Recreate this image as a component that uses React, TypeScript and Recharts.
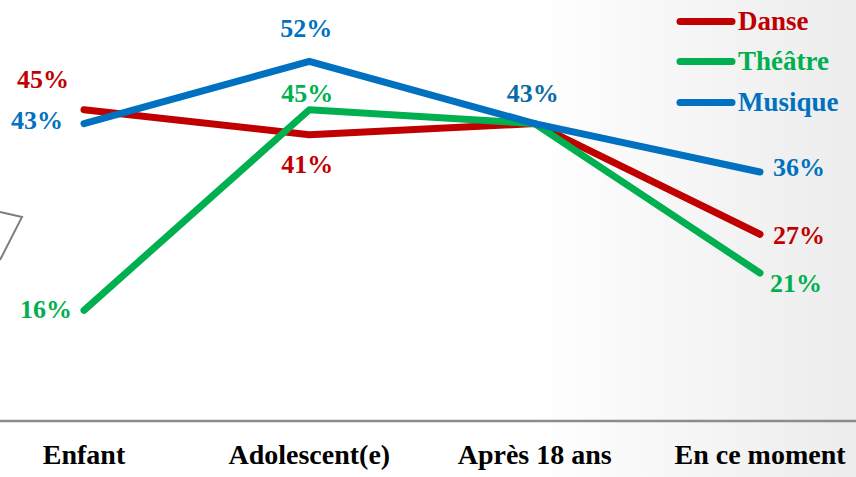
import React from "react";
import { LineChart, Line, XAxis, YAxis, LabelList } from "recharts";

const categories = ["Enfant", "Adolescent(e)", "Après 18 ans", "En ce moment"];
const danse = [45, 41.4, 43, 27];
const theatre = [16, 45, 43, 21.4];
const musique = [43, 52, 43, 36];

const FONT = '"Liberation Serif", "Times New Roman", serif';

const series = [
  { key: "danse", name: "Danse", color: "#C00000" },
  { key: "theatre", name: "Théâtre", color: "#00B050" },
  { key: "musique", name: "Musique", color: "#0070C0" },
];

// label offsets (dx, dy) from each point to the label centre; null = label shared with another series
const labelOffsets: Record<string, ([number, number] | null)[]> = {
  danse: [[-41, -31], [-2, 29], null, [39, 1]],
  theatre: [[-38, -1], [-2, -17], null, [36, 10]],
  musique: [[-47, -4], [-3, -33], [-2, -31], [39, -5]],
};

const data = categories.map((c, i) => ({
  name: c,
  danse: danse[i],
  theatre: theatre[i],
  musique: musique[i],
}));

function makeLabel(key: string, color: string) {
  return (props: any) => {
    const { x, y, value, index } = props;
    const off = labelOffsets[key][index];
    if (!off) return null;
    const [dx, dy] = off;
    // the shared label where the three lines meet is drawn on top of each other in the original
    const fill = key === "musique" && index === 2 ? "#0B6AA6" : color;
    return (
      <text
        x={x + dx}
        y={y + dy + 9}
        textAnchor="middle"
        fill={fill}
        fontFamily={FONT}
        fontWeight="bold"
        fontSize={26}
      >
        {Math.round(value)}%
      </text>
    );
  };
}

function CategoryTick(props: any) {
  const { x, y, payload } = props;
  return (
    <text
      x={x}
      y={y + 35}
      textAnchor="middle"
      fill="#000"
      fontFamily={FONT}
      fontWeight="bold"
      fontSize={28}
    >
      {payload.value}
    </text>
  );
}

function ChartLegend() {
  return (
    <div
      style={{
        position: "absolute",
        left: 676,
        top: 1,
        fontFamily: FONT,
        fontWeight: "bold",
        fontSize: 27,
      }}
    >
      {series.map((s) => (
        <div
          key={s.key}
          style={{ display: "flex", alignItems: "center", height: 40.5, color: s.color }}
        >
          <svg width={60} height={9} style={{ marginRight: 2 }}>
            <line x1={4} y1={4.5} x2={56} y2={4.5} stroke={s.color} strokeWidth={7} strokeLinecap="round" />
          </svg>
          <span>{s.name}</span>
        </div>
      ))}
    </div>
  );
}

export default function App() {
  return (
    <div
      style={{
        position: "absolute",
        left: 0,
        top: 0,
        width: 856,
        height: 477,
        overflow: "hidden",
        background: "linear-gradient(to right, #ffffff 62%, #ececec 100%)",
      }}
    >
      <svg
        width={30}
        height={70}
        style={{ position: "absolute", left: 0, top: 200 }}
      >
        <polyline points="0,12 22,17 0,60" fill="none" stroke="#7f7f7f" strokeWidth={2} />
      </svg>
      <LineChart
        width={856}
        height={477}
        data={data}
        margin={{ top: 6, right: 0, left: 0, bottom: 0 }}
      >
        <XAxis
          dataKey="name"
          height={56}
          padding={{ left: 84, right: 96 }}
          axisLine={{ stroke: "#8c8c8c", strokeWidth: 2.5 }}
          tickLine={false}
          tick={<CategoryTick />}
          interval={0}
        />
        <YAxis hide domain={[0, 60]} />
        {series.map((s) => (
          <Line
            key={s.key}
            type="linear"
            dataKey={s.key}
            name={s.name}
            stroke={s.color}
            strokeWidth={7}
            strokeLinecap="round"
            strokeLinejoin="round"
            dot={false}
            activeDot={false}
            isAnimationActive={false}
          >
            <LabelList dataKey={s.key} content={makeLabel(s.key, s.color)} />
          </Line>
        ))}
      </LineChart>
      <ChartLegend />
    </div>
  );
}
